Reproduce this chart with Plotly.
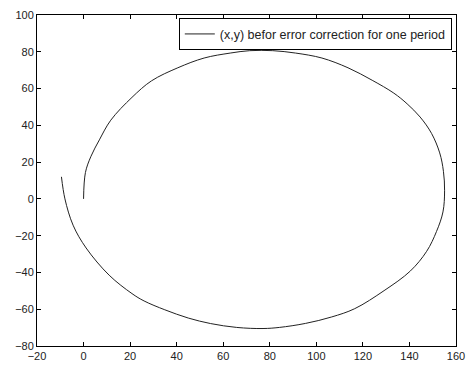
import plotly.graph_objects as go

x_vals = [0, 0.8, 3.2, 6.8, 11.7, 20.8, 29.2, 40.5, 51.8, 63.0, 71.4, 81.3, 91.1, 102.4,
          113.6, 124.0, 133.3, 139.0, 144.6, 149.5, 153.0, 154.6, 155.1, 154.4, 151.6,
          147.4, 140.4, 129.1, 116.5, 106.6, 95.4, 84.1, 77.1, 65.8, 54.6, 45.0, 34.9,
          26.0, 20.8, 11.0, 1.1, -4.5, -8.0, -9.5]
y_vals = [0, 14.3, 23.2, 32.1, 42.8, 55.2, 64.2, 71.3, 76.6, 79.3, 80.6, 80.6, 79.3, 76.6,
          71.3, 64.5, 57.5, 51.7, 44.5, 35.6, 25.0, 15.0, 4.4, -7.1, -17.8,
          -28.5, -39.2, -49.9, -59.7, -64.2, -67.7, -69.9, -70.5, -69.9, -67.8, -64.8, -60.3,
          -55.5, -51.5, -41.5, -26.7, -14.3, 0, 12.0]
x_ticks = [-20, 0, 20, 40, 60, 80, 100, 120, 140, 160]
y_ticks = [-80, -60, -40, -20, 0, 20, 40, 60, 80, 100]
series_name = "(x,y) befor error correction for one period"

fig = go.Figure()
fig.add_trace(go.Scatter(x=x_vals, y=y_vals, mode="lines", name=series_name,
                         line=dict(color="#222222", width=1, shape="spline", smoothing=1.0)))

axis_common = dict(showline=True, linecolor="black", linewidth=1, mirror="ticks",
                   ticks="inside", ticklen=4, tickcolor="black", showgrid=False,
                   zeroline=False, tickfont=dict(family="Liberation Sans, Arial", size=11, color="#222"))
fig.update_xaxes(range=[-20, 160], tickvals=x_ticks, **axis_common)
fig.update_yaxes(range=[-80, 100], tickvals=y_ticks, **axis_common)

fig.update_layout(
    width=474, height=371,
    margin=dict(l=37, r=9, t=13, b=21),
    paper_bgcolor="white", plot_bgcolor="white",
    showlegend=True,
    legend=dict(x=0.99, y=0.99, xanchor="right", yanchor="top",
                bordercolor="black", borderwidth=1, bgcolor="white",
                font=dict(family="Liberation Sans, Arial", size=12.5, color="#222"),
                tracegroupgap=0),
)
fig.write_html("out.html")
